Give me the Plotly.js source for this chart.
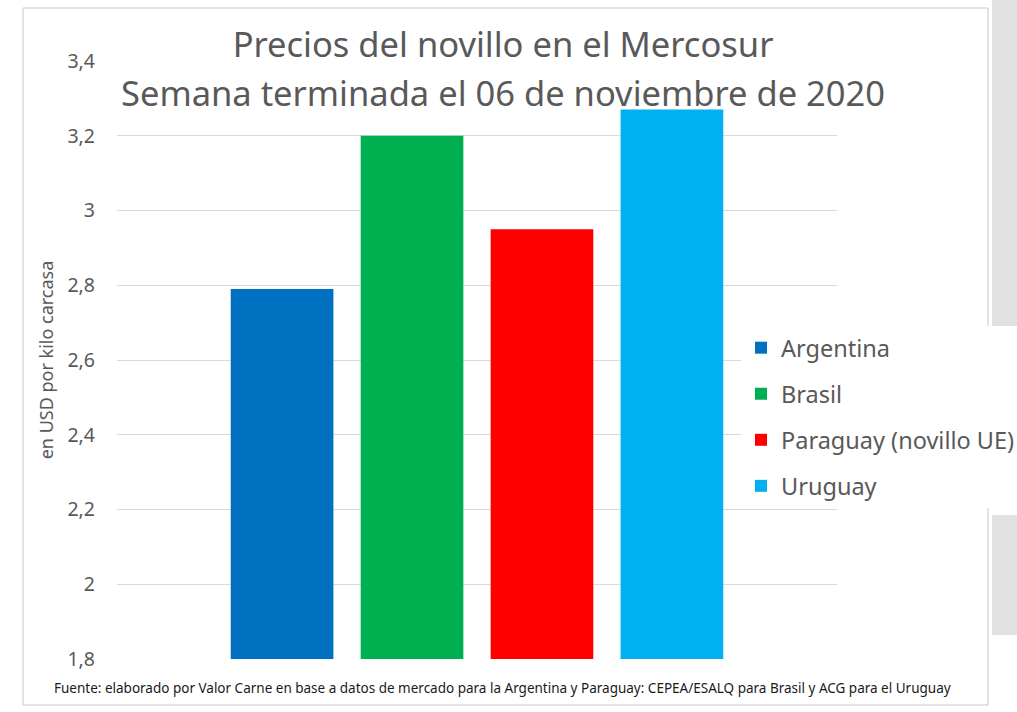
<!DOCTYPE html>
<html>
<head>
<meta charset="utf-8">
<script src="https://cdn.plot.ly/plotly-3.0.1.min.js"></script>
<style>
  html, body { margin: 0; padding: 0; background: #ffffff; }
  #chart { width: 1017px; height: 712px; }
</style>
</head>
<body>
<div id="chart"></div>
<script>
// ---- data ----
const countries = ["Argentina", "Brasil", "Paraguay (novillo UE)", "Uruguay"];
const prices = [2.79, 3.20, 2.95, 3.27];
const barColors = ["#0070C0", "#00B050", "#FF0000", "#00B0F0"];
const category = ["Semana al 06/11/2020"];
const yTickValues = [1.8, 2, 2.2, 2.4, 2.6, 2.8, 3, 3.2, 3.4];
const titleLine1 = "Precios del novillo en el Mercosur";
const titleLine2 = "Semana terminada el 06 de noviembre de 2020";
const yTitle = "en USD por kilo carcasa";
const sourceNote = "Fuente: elaborado por Valor Carne en base a datos de mercado para la Argentina y Paraguay: CEPEA/ESALQ para Brasil y ACG para el Uruguay";

const FONT = "Noto Sans, Open Sans, sans-serif";
const GREY = "#595959";

const traces = countries.map((name, i) => ({
  type: "bar",
  name: name,
  x: category,
  y: [prices[i]],
  marker: { color: barColors[i] },
  legendgroup: "g" + i,
  hoverinfo: "name+y"
}));

const layout = {
  width: 1017,
  height: 712,
  paper_bgcolor: "#ffffff",
  plot_bgcolor: "#ffffff",
  separators: ",.",
  margin: { l: 117, r: 180, t: 61, b: 53, autoexpand: false },
  barmode: "group",
  bargap: 0.278,
  bargroupgap: 0.21,
  showlegend: true,
  font: { family: FONT, color: GREY },
  title: {
    text: titleLine1,
    font: { family: FONT, size: 34.5, color: GREY },
    x: 0.4946, xanchor: "center", xref: "container",
    y: 1 - 45 / 712, yanchor: "middle", yref: "container"
  },
  xaxis: {
    type: "category",
    range: [-0.5, 0.5],
    showticklabels: false,
    showgrid: false,
    zeroline: false,
    showline: false,
    ticks: ""
  },
  yaxis: {
    range: [1.8, 3.4],
    tickvals: yTickValues,
    showgrid: true,
    gridcolor: "#D9D9D9",
    gridwidth: 1,
    zeroline: false,
    showline: false,
    ticks: "",
    ticklabelstandoff: 21,
    tickfont: { family: FONT, size: 19.5, color: GREY },
    title: { text: yTitle, font: { family: FONT, size: 18, color: GREY }, standoff: 9 }
  },
  legend: {
    x: 0.8667, xanchor: "left",
    y: 0.557, yanchor: "top",
    bgcolor: "#ffffff",
    borderwidth: 0,
    tracegroupgap: 12.5,
    font: { family: FONT, size: 23.5, color: GREY },
    traceorder: "grouped"
  },
  annotations: [
    {
      text: titleLine2,
      xref: "paper", yref: "paper",
      x: (503 - 117) / 720, y: (659 - 93) / 598,
      xanchor: "center", yanchor: "middle",
      showarrow: false,
      font: { family: FONT, size: 34.5, color: GREY }
    },
    {
      text: sourceNote,
      xref: "paper", yref: "paper",
      x: (502 - 117) / 720, y: (659 - 688) / 598,
      xanchor: "center", yanchor: "middle",
      showarrow: false,
      font: { family: FONT, size: 13.5, color: "#1a1a1a" }
    }
  ],
  shapes: [
    { type: "rect", xref: "paper", yref: "paper",
      x0: (992 - 117) / 720, x1: (1017 - 117) / 720,
      y0: (659 - 0) / 598, y1: (659 - 327) / 598,
      fillcolor: "#E1E1E1", line: { width: 0 }, layer: "below" },
    { type: "rect", xref: "paper", yref: "paper",
      x0: (992 - 117) / 720, x1: (1017 - 117) / 720,
      y0: (659 - 515) / 598, y1: (659 - 635) / 598,
      fillcolor: "#E1E1E1", line: { width: 0 }, layer: "below" },
    { type: "rect", xref: "paper", yref: "paper",
      x0: (23 - 117) / 720, x1: (988 - 117) / 720,
      y0: (659 - 8) / 598, y1: (659 - 705) / 598,
      fillcolor: "rgba(0,0,0,0)", line: { color: "#C8C8C8", width: 1 }, layer: "below" }
  ]
};

Plotly.newPlot("chart", traces, layout, { displayModeBar: false, responsive: false });
</script>
</body>
</html>
